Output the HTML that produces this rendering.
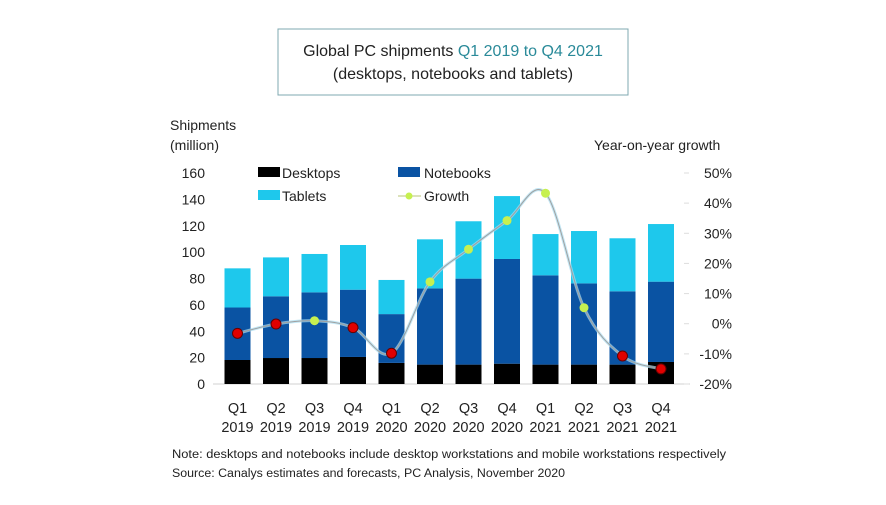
<!DOCTYPE html>
<html><head><meta charset="utf-8"><style>
html,body{margin:0;padding:0;background:#fff;}
svg{display:block;font-family:"Liberation Sans",sans-serif;}
</style></head><body>
<svg id="chart" width="886" height="505" viewBox="0 0 886 505">
  <rect x="278" y="29" width="350" height="66" fill="#fff" stroke="#7fa8b0" stroke-width="1"/>
  <text x="453" y="56" text-anchor="middle" font-size="16" fill="#222">Global PC shipments <tspan fill="#2a8a99">Q1 2019 to Q4 2021</tspan></text>
  <text x="453" y="79" text-anchor="middle" font-size="16" fill="#222">(desktops, notebooks and tablets)</text>
  <text x="170" y="130" font-size="14" fill="#222">Shipments</text>
  <text x="170" y="150" font-size="14" fill="#222">(million)</text>
  <text x="594" y="150" font-size="14" fill="#222">Year-on-year growth</text>
  <g id="axes"></g>
  <g id="bars"></g>
  <g id="line"></g>
  <g>
    <rect x="258" y="167" width="22" height="10" fill="#000"/>
    <text x="282" y="178" font-size="14" fill="#222">Desktops</text>
    <rect x="398" y="167" width="22" height="10" fill="#0a53a3"/>
    <text x="424" y="178" font-size="14" fill="#222">Notebooks</text>
    <rect x="258" y="190" width="22" height="10" fill="#1ec8ec"/>
    <text x="282" y="201" font-size="14" fill="#222">Tablets</text>
    <line x1="398" y1="196" x2="421" y2="196" stroke="#c8d090" stroke-width="1.2"/>
    <circle cx="409" cy="196" r="3.5" fill="#c6f050"/>
    <text x="424" y="201" font-size="14" fill="#222">Growth</text>
  </g>
  <text x="172" y="458" font-size="11.5" fill="#222" textLength="554" lengthAdjust="spacingAndGlyphs">Note: desktops and notebooks include desktop workstations and mobile workstations respectively</text>
  <text x="172" y="477" font-size="11.5" fill="#222" textLength="393" lengthAdjust="spacingAndGlyphs">Source: Canalys estimates and forecasts, PC Analysis, November 2020</text>
</svg>
<script>
const quarters = ["Q1","Q2","Q3","Q4","Q1","Q2","Q3","Q4","Q1","Q2","Q3","Q4"];
const years = ["2019","2019","2019","2019","2020","2020","2020","2020","2021","2021","2021","2021"];
const desktops = [18.2,19.7,19.7,20.5,16,14.7,14.7,15.4,14.7,14.7,14.7,16.7];
const notebooks = [39.8,46.8,49.8,51,37,57.8,65.2,79.4,67.7,61.6,55.6,60.9];
const tablets = [29.7,29.5,29.1,33.9,25.9,37.2,43.5,47.7,31.3,39.7,40.2,43.7];
const growth = [-3.2,-0.1,1.0,-1.3,-9.8,13.9,24.7,34.2,43.3,5.3,-10.7,-15.0];
const leftTicks = [0,20,40,60,80,100,120,140,160];
const rightTicks = [-20,-10,0,10,20,30,40,50];

const NS = "http://www.w3.org/2000/svg";
const y0 = 384, yTop = 173;
const yL = v => y0 - v * (y0 - yTop) / 160;
const yR = v => y0 - (v + 20) * (y0 - yTop) / 70;
const xC = i => 237.5 + i * 38.5;
const bw = 26;
function mk(tag, attrs, parent){const e=document.createElementNS(NS,tag);for(const k in attrs)e.setAttribute(k,attrs[k]);parent.appendChild(e);return e;}

const axes = document.getElementById('axes');
let base = mk('line',{x1:213,y1:y0,x2:690,y2:y0,stroke:'#d0d0d0','stroke-width':1},axes);


leftTicks.forEach(v=>{
  const t = mk('text',{x:205,y:yL(v)+5,'text-anchor':'end','font-size':14,fill:'#222'},axes);
  t.textContent = v;
  
  
});
rightTicks.forEach(v=>{
  const t = mk('text',{x:732,y:yR(v)+5,'text-anchor':'end','font-size':14,fill:'#222'},axes);
  t.textContent = v + '%';
  
  
  const tk = mk('line',{x1:684,y1:yR(v),x2:689,y2:yR(v),stroke:'#ddd'},axes);
  
  
});
quarters.forEach((q,i)=>{
  const t = mk('text',{x:xC(i),y:413,'text-anchor':'middle','font-size':14.5,fill:'#222'},axes);
  t.textContent = q;
  
  
  const t2 = mk('text',{x:xC(i),y:432,'text-anchor':'middle','font-size':14.5,fill:'#222'},axes);
  t2.textContent = years[i];
  
  
});

const bars = document.getElementById('bars');
quarters.forEach((q,i)=>{
  const segs = [[desktops[i],'#000','bar-desktops'],[notebooks[i],'#0a53a3','bar-notebooks'],[tablets[i],'#1ec8ec','bar-tablets']];
  let acc = 0;
  segs.forEach(s=>{
    const r = mk('rect',{x:xC(i)-bw/2,y:yL(acc+s[0]),width:bw,height:yL(acc)-yL(acc+s[0]),fill:s[1]},bars);
    
    
    acc += s[0];
  });
});

const lineG = document.getElementById('line');
const pts = growth.map((g,i)=>[xC(i),yR(g)]);
let d = 'M'+pts[0][0]+','+pts[0][1];
for(let i=0;i<pts.length-1;i++){
  const p0=pts[Math.max(0,i-1)],p1=pts[i],p2=pts[i+1],p3=pts[Math.min(pts.length-1,i+2)];
  const c1=[p1[0]+(p2[0]-p0[0])/6,p1[1]+(p2[1]-p0[1])/6];
  const c2=[p2[0]-(p3[0]-p1[0])/6,p2[1]-(p3[1]-p1[1])/6];
  d+=' C'+c1[0]+','+c1[1]+' '+c2[0]+','+c2[1]+' '+p2[0]+','+p2[1];
}
const glow = mk('path',{d:d,fill:'none',stroke:'#a8dcf0','stroke-width':3,opacity:0.7},lineG);


const path = mk('path',{d:d,fill:'none',stroke:'#a0a0a0','stroke-width':1},lineG);


growth.forEach((g,i)=>{
  const neg = g < 0;
  const c = mk('circle',{cx:xC(i),cy:yR(g),r:neg?5:4.5,fill:neg?'#e00000':'#c6f050',stroke:neg?'#600':'none','stroke-width':1},lineG);
  
  
});
</script>
</body></html>
